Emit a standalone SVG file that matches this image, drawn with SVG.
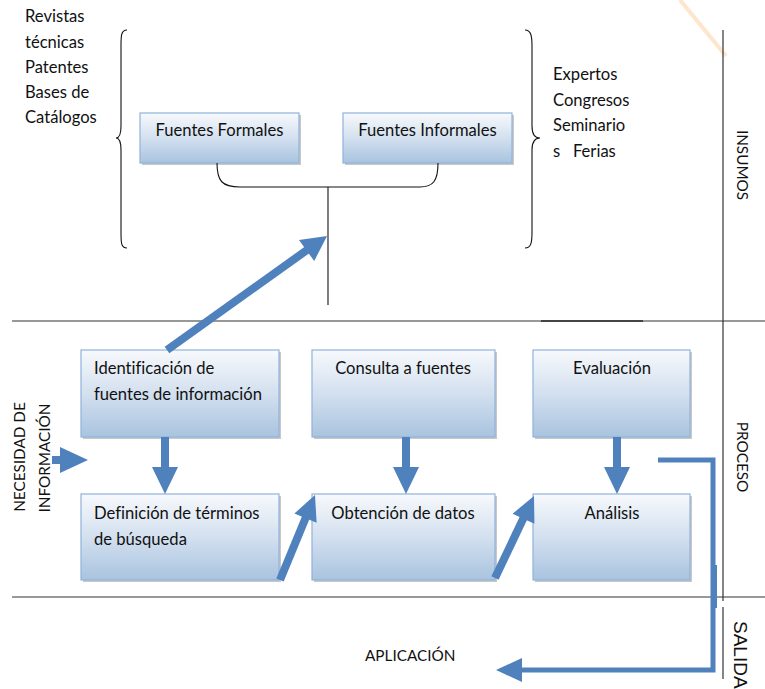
<svg xmlns="http://www.w3.org/2000/svg" width="765" height="689" viewBox="0 0 765 689">
<style>
text{font-family:Lato,"Open Sans","Liberation Sans",sans-serif;font-size:16.6px;fill:#111;font-variant-ligatures:none}
.box{fill:url(#g);stroke:#8fb3dc;stroke-width:1.2}
.sh{fill:#9a9a9a;opacity:0.55}
.rule{stroke:#333;stroke-width:1.2;fill:none}
.thin{stroke:#111;stroke-width:1.1;fill:none}
.bl{fill:#4f81bd}
.bls{stroke:#4f81bd;fill:none}
.c{text-anchor:middle}
.sm{font-size:15.3px}
</style>
<defs>
<linearGradient id="g" x1="0" y1="0" x2="0" y2="1">
<stop offset="0" stop-color="#f7f9fc"/>
<stop offset="0.5" stop-color="#d3e0ef"/>
<stop offset="1" stop-color="#a9c3df"/>
</linearGradient>
</defs>
<line x1="680" y1="0" x2="726" y2="56" stroke="#fde6cc" stroke-width="4"/>
<g id="rules">
<line class="rule" x1="12" y1="321" x2="765" y2="321"/>
<line x1="541" y1="321" x2="643" y2="321" stroke="#444" stroke-width="2"/>
<line class="rule" x1="12" y1="597" x2="765" y2="597"/>
<line class="rule" x1="723" y1="30" x2="723" y2="601"/>
<line class="rule" x1="723" y1="607" x2="723" y2="679"/>
</g>
<g id="left-list">
<text x="25" y="22">Revistas</text>
<text x="25" y="48">técnicas</text>
<text x="25" y="73">Patentes</text>
<text x="25" y="98">Bases de</text>
<text x="25" y="123">Catálogos</text>
</g>
<g id="right-list">
<text x="553" y="80">Expertos</text>
<text x="553" y="106">Congresos</text>
<text x="553" y="131">Seminario</text>
<text x="553" y="157" xml:space="preserve">s   Ferias</text>
</g>
<g id="braces">
<path class="thin" d="M127,30 C121,30 121,36 121,46 L121,126 C121,134 119,138 116,138 C119,138 121,142 121,150 L121,232 C121,243 121,248 127,248"/>
<path class="thin" d="M525,30 C531,30 532,36 532,46 L532,126 C532,134 535,138 540,138 C535,138 532,142 532,150 L532,232 C532,243 531,248 525,248"/>
</g>
<g id="fuentes-formales">
<rect class="sh" x="142" y="115" width="159" height="50"/>
<rect class="box" x="140" y="113" width="159" height="50"/>
<text class="c" x="219.5" y="136">Fuentes Formales</text>
</g>
<g id="fuentes-informales">
<rect class="sh" x="345" y="115" width="169" height="50"/>
<rect class="box" x="343" y="113" width="169" height="50"/>
<text class="c" x="427.5" y="136">Fuentes Informales</text>
</g>
<g id="identificacion">
<rect class="sh" x="83" y="352" width="198" height="87"/>
<rect class="box" x="81" y="350" width="198" height="87"/>
<text x="94" y="374">Identificación de</text>
<text x="94" y="400">fuentes de información</text>
</g>
<g id="consulta">
<rect class="sh" x="314" y="352" width="183" height="87"/>
<rect class="box" x="312" y="350" width="183" height="87"/>
<text class="c" x="403" y="374">Consulta a fuentes</text>
</g>
<g id="evaluacion">
<rect class="sh" x="535" y="352" width="157" height="87"/>
<rect class="box" x="533" y="350" width="157" height="87"/>
<text class="c" x="612" y="374">Evaluación</text>
</g>
<g id="definicion">
<rect class="sh" x="83" y="496" width="198" height="86"/>
<rect class="box" x="81" y="494" width="198" height="86"/>
<text x="94" y="519">Definición de términos</text>
<text x="94" y="545">de búsqueda</text>
</g>
<g id="obtencion">
<rect class="sh" x="314" y="496" width="183" height="86"/>
<rect class="box" x="312" y="494" width="183" height="86"/>
<text class="c" x="403" y="519">Obtención de datos</text>
</g>
<g id="analisis">
<rect class="sh" x="535" y="496" width="157" height="86"/>
<rect class="box" x="533" y="494" width="157" height="86"/>
<text class="c" x="612" y="519">Análisis</text>
</g>
<g id="labels">
<text transform="translate(737,165) rotate(90)" class="c sm">INSUMOS</text>
<text transform="translate(737,457) rotate(90)" class="c sm">PROCESO</text>
<text transform="translate(734,621) rotate(90)" style="font-family:'Liberation Sans',Arial,sans-serif;font-size:19px">SALIDA</text>
<text transform="translate(25,457) rotate(-90)" class="c sm">NECESIDAD DE</text>
<text transform="translate(50,458) rotate(-90)" class="c sm">INFORMACIÓN</text>
<text x="365" y="661" class="sm">APLICACIÓN</text>
</g>
<g id="connectors">
<path class="thin" d="M217,163 C217,181 222,187 240,187 L420,187 C433,187 438,181 438,163"/>
<line class="thin" x1="328" y1="187" x2="328" y2="305"/>
<line class="bls" stroke-width="8" x1="167" y1="350" x2="307" y2="250"/>
<polygon class="bl" points="327,236 314.2,261.1 299,239.9"/>
<polygon class="bl" points="161,437 169,437 169,467 178,467 165,494 152,467 161,467"/>
<polygon class="bl" points="402,437 410,437 410,467 419,467 406,494 393,467 402,467"/>
<polygon class="bl" points="613,437 621,437 621,467 630,467 617,494 604,467 613,467"/>
<line class="bls" stroke-width="8" x1="280" y1="580" x2="306" y2="517"/>
<polygon class="bl" points="315,495 316.6,522.7 294.4,513.5"/>
<line class="bls" stroke-width="8" x1="495" y1="578" x2="524" y2="517"/>
<polygon class="bl" points="534,496 534.4,523.7 512.6,513.7"/>
<rect class="bl" x="52" y="456" width="10" height="8"/>
<polygon class="bl" points="60,447 88,460 60,473"/>
<polyline class="bls" stroke-width="5" points="658,460 713,460 713,670 520,670"/>
<rect class="bl" x="711" y="565" width="6" height="43"/>
<polygon class="bl" points="496,670 522,658 522,682"/>
</g>
</svg>
